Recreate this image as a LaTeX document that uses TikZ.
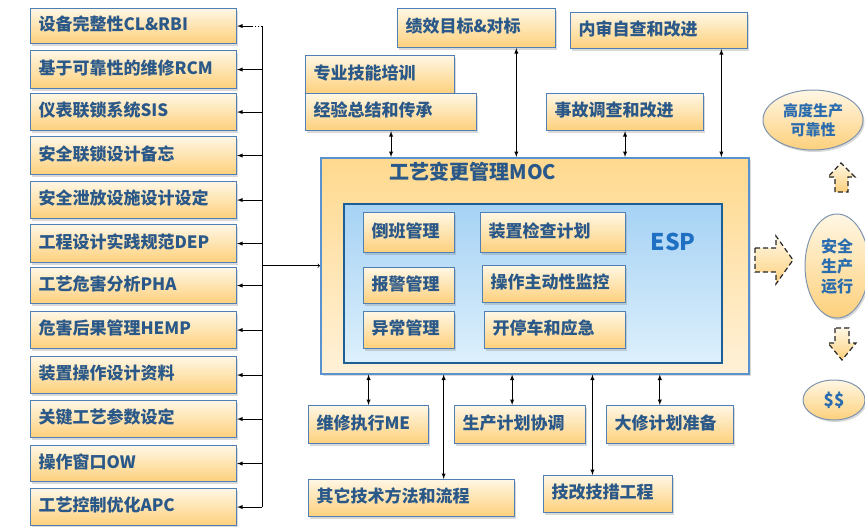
\documentclass[tikz,border=0pt]{standalone}
\usepackage{fontspec}
\newfontfamily\cjk{Noto Sans CJK SC}
\usetikzlibrary{shapes.geometric, shadows, calc}

\definecolor{cardline}{HTML}{4F7FB5}
\definecolor{cardtop}{HTML}{FFF7E4}
\definecolor{cardbot}{HTML}{FDD07C}
\definecolor{cardtext}{HTML}{2A5889}
\definecolor{mocline}{HTML}{5A92CF}
\definecolor{moctop}{HTML}{FFD98E}
\definecolor{mocbot}{HTML}{FFF1D8}
\definecolor{espline}{HTML}{1D5E97}
\definecolor{esptop}{HTML}{A6D2F4}
\definecolor{espbot}{HTML}{DDF0FC}
\definecolor{esptext}{HTML}{1F6FC2}
\definecolor{ovalline}{HTML}{7E94AE}
\definecolor{ovaltext}{HTML}{2A6CAE}

\tikzset{
  card/.style={draw=cardline, line width=1.1pt, top color=cardtop, bottom color=cardbot,
    anchor=north west, inner xsep=8pt, inner ysep=0pt, align=left, text=cardtext,
    font=\cjk\bfseries\fontsize{17}{19}\selectfont, text depth=5pt,
    drop shadow={shadow xshift=1.5pt, shadow yshift=-2pt, opacity=.3}},
  mocbox/.style={draw=mocline, line width=1.5pt, top color=moctop, bottom color=mocbot,
    anchor=north west, drop shadow={shadow xshift=2pt, shadow yshift=-2.5pt, opacity=.3}},
  espbox/.style={draw=espline, line width=2pt, top color=esptop, bottom color=espbot,
    anchor=north west},
  oval/.style={ellipse, draw=ovalline, line width=1pt, top color=cardtop, bottom color=cardbot,
    inner sep=0pt, align=center, text=ovaltext, font=\cjk\bfseries\fontsize{15}{19}\selectfont,
    drop shadow={shadow xshift=1.5pt, shadow yshift=-2pt, opacity=.3}},
  blockarrow/.style={draw=black!85, dash pattern=on 5pt off 3pt, line width=1.2pt,
    top color=cardtop, bottom color=cardbot},
  dbl/.style={latex-latex, line width=.9pt},
}

\begin{document}
\begin{tikzpicture}[x=1pt, y=-1pt, >=latex]
    \useasboundingbox (0,0) rectangle (865,527);
    % left column
    \node[card, text width=190pt, minimum height=35pt] (l1) at (30,8) {设备完整性CL\&RBI};
    \node[card, text width=190pt, minimum height=38pt] (l2) at (30,50) {基于可靠性的维修RCM};
    \node[card, text width=190pt, minimum height=37pt] (l3) at (30,93) {仪表联锁系统SIS};
    \node[card, text width=190pt, minimum height=38pt] (l4) at (30,136) {安全联锁设计备忘};
    \node[card, text width=190pt, minimum height=37pt] (l5) at (30,181) {安全泄放设施设计设定};
    \node[card, text width=190pt, minimum height=38pt] (l6) at (30,224) {工程设计实践规范DEP};
    \node[card, text width=190pt, minimum height=36pt] (l7) at (30,267) {工艺危害分析PHA};
    \node[card, text width=190pt, minimum height=37pt] (l8) at (30,311) {危害后果管理HEMP};
    \node[card, text width=190pt, minimum height=37pt] (l9) at (30,356) {装置操作设计资料};
    \node[card, text width=190pt, minimum height=37pt] (l10) at (30,400) {关键工艺参数设定};
    \node[card, text width=190pt, minimum height=36pt] (l11) at (30,445) {操作窗口OW};
    \node[card, text width=190pt, minimum height=37pt] (l12) at (30,488) {工艺控制优化APC};

    % top row
    \node[card, text width=142pt, minimum height=39pt] (t1) at (397,8) {绩效目标\&对标};
    \node[card, text width=161pt, minimum height=36pt] (t2) at (570,12) {内审自查和改进};
    \node[card, text width=133pt, minimum height=38pt] (t3) at (305,55) {专业技能培训};
    \node[card, text width=155pt, minimum height=37pt] (t4) at (305,93) {经验总结和传承};
    \node[card, text width=141pt, minimum height=37pt] (t5) at (546,93) {事故调查和改进};

    % MOC and ESP
    \node[mocbox, minimum width=428pt, minimum height=216pt] (moc) at (320,157) {};
    \node[font=\cjk\bfseries\fontsize{20}{22}\selectfont, text=cardtext] (moct) at (473,172) {工艺变更管理MOC};
    \node[espbox, minimum width=378pt, minimum height=159pt] (esp) at (343,203) {};
    \node[font=\cjk\bfseries\fontsize{23}{25}\selectfont, text=esptext] (espt) at (673,242) {ESP};
    \node[card, text width=75pt, minimum height=40pt] (e1) at (363,212) {倒班管理};
    \node[card, text width=129pt, minimum height=40pt] (e2) at (480,212) {装置检查计划};
    \node[card, text width=75pt, minimum height=36pt] (e3) at (363,267) {报警管理};
    \node[card, text width=127pt, minimum height=37pt] (e4) at (482,265) {操作主动性监控};
    \node[card, text width=75pt, minimum height=37pt] (e5) at (363,311) {异常管理};
    \node[card, text width=125pt, minimum height=37pt] (e6) at (484,311) {开停车和应急};

    % bottom row
    \node[card, text width=104pt, minimum height=38pt] (b1) at (308,405) {维修执行ME};
    \node[card, text width=115pt, minimum height=38pt] (b2) at (454,405) {生产计划协调};
    \node[card, text width=111pt, minimum height=38pt] (b3) at (606,405) {大修计划准备};
    \node[card, text width=190pt, minimum height=37pt] (b4) at (308,479) {其它技术方法和流程};
    \node[card, text width=113pt, minimum height=37pt] (b5) at (543,475) {技改技措工程};

    % right column
    \node[oval, minimum width=100pt, minimum height=60pt] (o1) at (813,120) {高度生产\\可靠性};
    \node[oval, minimum width=64pt, minimum height=104pt, font=\cjk\bfseries\fontsize{16}{20}\selectfont] (o2) at (837,266) {安全\\生产\\运行};
    \node[oval, minimum width=62pt, minimum height=40pt, font=\cjk\bfseries\fontsize{17}{19}\selectfont] (o3) at (834,400) {\$\$};

    % left bus
    \coordinate (bus) at (262,0);
    \draw[line width=.9pt] (l1.east -| bus) -- (l12.east -| bus);
    \draw[line width=.9pt, dotted] (l1.east -| bus) -- ++(-10,0) coordinate (dot1);
    \draw[line width=.9pt, -latex] (dot1) -- (l1.east);
    \draw[line width=.9pt, -latex] (l2.east -| bus) -- (l2.east);
    \draw[line width=.9pt, -latex] (l3.east -| bus) -- (l3.east);
    \draw[line width=.9pt, -latex] (l4.east -| bus) -- (l4.east);
    \draw[line width=.9pt, -latex] (l5.east -| bus) -- (l5.east);
    \draw[line width=.9pt, -latex] (l6.east -| bus) -- (l6.east);
    \draw[line width=.9pt, -latex] (l7.east -| bus) -- (l7.east);
    \draw[line width=.9pt, -latex] (l8.east -| bus) -- (l8.east);
    \draw[line width=.9pt, -latex] (l9.east -| bus) -- (l9.east);
    \draw[line width=.9pt, -latex] (l10.east -| bus) -- (l10.east);
    \draw[line width=.9pt, -latex] (l11.east -| bus) -- (l11.east);
    \draw[line width=.9pt, -latex] (l12.east -| bus) -- (l12.east);
    \draw[line width=.7pt, -to] (bus |- moc.west) -- (moc.west);

    % top links
    \coordinate (a1) at ($(t1.south west)!.75!(t1.south east)$);
    \coordinate (a2) at ($(t2.south west)!.85!(t2.south east)$);
    \draw[dbl] (t4.south) -- (t4.south |- moc.north);
    \draw[dbl] (a1) -- (a1 |- moc.north);
    \draw[dbl] (t5.south) -- (t5.south |- moc.north);
    \draw[dbl] (a2) -- (a2 |- moc.north);

    % bottom links
    \coordinate (c1) at ($(b4.north west)!.655!(b4.north east)$);
    \coordinate (c2) at ($(b2.north west)!.44!(b2.north east)$);
    \coordinate (c3) at ($(b5.north west)!.38!(b5.north east)$);
    \coordinate (c4) at ($(b3.north west)!.42!(b3.north east)$);
    \draw[dbl] (b1.north |- moc.south) -- (b1.north);
    \draw[dbl] (c1 |- moc.south) -- (c1);
    \draw[dbl] (c2 |- moc.south) -- (c2);
    \draw[dbl] (c3 |- moc.south) -- (c3);
    \draw[dbl] (c4 |- moc.south) -- (c4);

    % hollow arrows
    \draw[blockarrow] (755,248) -- (776,248) -- (776,236) -- (793,260) -- (776,284) -- (776,272) -- (755,272) -- cycle;
    \draw[blockarrow] (835,192) -- (835,177) -- (828,177) -- (841,163) -- (855,177) -- (848,177) -- (848,192) -- cycle;
    \draw[blockarrow] (835,328) -- (835,343) -- (828,343) -- (842,360) -- (856,343) -- (849,343) -- (849,328) -- cycle;
\end{tikzpicture}
\end{document}
